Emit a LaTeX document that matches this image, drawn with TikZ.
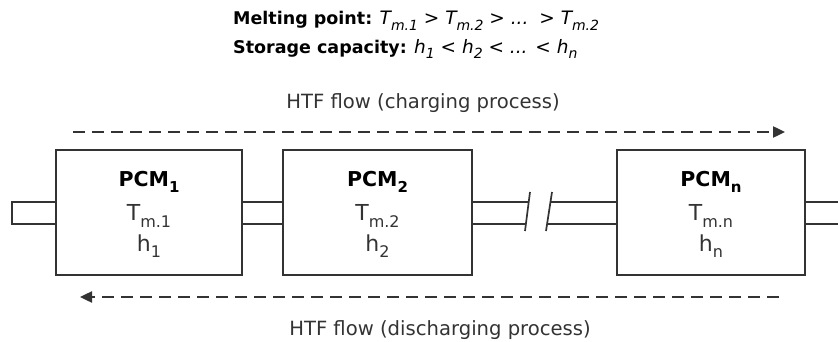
\documentclass[tikz,border=0pt]{standalone}
\usepackage{fontspec}
\setmainfont{DejaVu Sans}
\usetikzlibrary{arrows.meta}
\definecolor{ink}{HTML}{333333}
\newcommand{\lsub}[2]{\raisebox{-0.3em}{\fontsize{#1}{#1}\selectfont #2}}
\newcommand{\itpart}[1]{{\fontsize{18.5}{20}\selectfont\itshape #1}}
\begin{document}
\begin{tikzpicture}[x=1pt,y=-1pt,
  pcmbox/.style={draw=ink, line width=1.7pt, minimum height=125pt, inner sep=0pt},
  pipe/.style={draw=ink, line width=1.7pt},
  flow/.style={draw=ink, line width=2.4pt, dash pattern=on 12pt off 7pt, -{Triangle[length=12pt,width=11pt]}},
  lbl/.style={text=ink, inner sep=0pt, font=\fontsize{19.6}{22}\selectfont},
  pcmname/.style={text=black, inner sep=0pt, font=\fontsize{20.5}{23}\selectfont\bfseries},
  pcmval/.style={text=ink, inner sep=0pt, font=\fontsize{22}{25}\selectfont},
  head/.style={text=black, inner sep=0pt, anchor=west, font=\fontsize{17.5}{20}\selectfont}]
\useasboundingbox (0,0) rectangle (838,342);

% header lines
\node[head] (mp) at (233,21) {\textbf{Melting point:} \itpart{T\lsub{14}{m.1} > T\lsub{14}{m.2} > ... \,> T\lsub{14}{m.2}}};
\node[head] (sc) at (233,49) {\textbf{Storage capacity:} \itpart{h\lsub{14}{1} < h\lsub{14}{2} < ... < h\lsub{14}{n}}};

% flow labels
\node[lbl] (tc) at (423,103) {HTF flow (charging process)};
\node[lbl] (td) at (440,330) {HTF flow (discharging process)};

% boxes
\node[pcmbox, minimum width=186pt] (b1) at (149,212.5) {};
\node[pcmbox, minimum width=189pt] (b2) at (377.5,212.5) {};
\node[pcmbox, minimum width=188pt] (bn) at (711,212.5) {};

% box texts
\node[pcmname] (n1) at (149,182) {PCM\lsub{15}{1}};
\node[pcmval] (t1) at (149,216) {T\lsub{16}{m.1}};
\node[pcmval] (h1) at (149,246) {h\lsub{16}{1}};
\node[pcmname] (n2) at (377.5,182) {PCM\lsub{15}{2}};
\node[pcmval] (t2) at (377.5,216) {T\lsub{16}{m.2}};
\node[pcmval] (h2) at (377.5,246) {h\lsub{16}{2}};
\node[pcmname] (nn) at (711,182) {PCM\lsub{15}{n}};
\node[pcmval] (tn) at (711,216) {T\lsub{16}{m.n}};
\node[pcmval] (hn) at (711,246) {h\lsub{16}{n}};

% pipes
\coordinate (py1) at (0,202);
\coordinate (py2) at (0,224);
\coordinate (sl1a) at (528.7,202);
\coordinate (sl1b) at (525.9,224);
\coordinate (sl2a) at (550.5,202);
\coordinate (sl2b) at (547.1,224);
\coordinate (re1) at (838,202);
\coordinate (re2) at (838,224);
\draw[pipe] (b1.west |- py1) -- (12,202) -- (12,224) -- (b1.west |- py2);
\draw[pipe] (b1.east |- py1) -- (b2.west |- py1);
\draw[pipe] (b1.east |- py2) -- (b2.west |- py2);
\draw[pipe] (b2.east |- py1) -- (sl1a);
\draw[pipe] (b2.east |- py2) -- (sl1b);
\draw[pipe] (sl2a) -- (bn.west |- py1);
\draw[pipe] (sl2b) -- (bn.west |- py2);
\draw[pipe] (bn.east |- py1) -- (re1);
\draw[pipe] (bn.east |- py2) -- (re2);
\draw[pipe] (530,192) -- (525,231);
\draw[pipe] (552,192) -- (546,231);

% flow arrows
\coordinate (ca) at (73,132);
\coordinate (cb) at (785,132);
\coordinate (da) at (779,297);
\coordinate (db) at (80,297);
\draw[flow] (ca) -- (cb);
\draw[flow] (da) -- (db);
\end{tikzpicture}
\end{document}
